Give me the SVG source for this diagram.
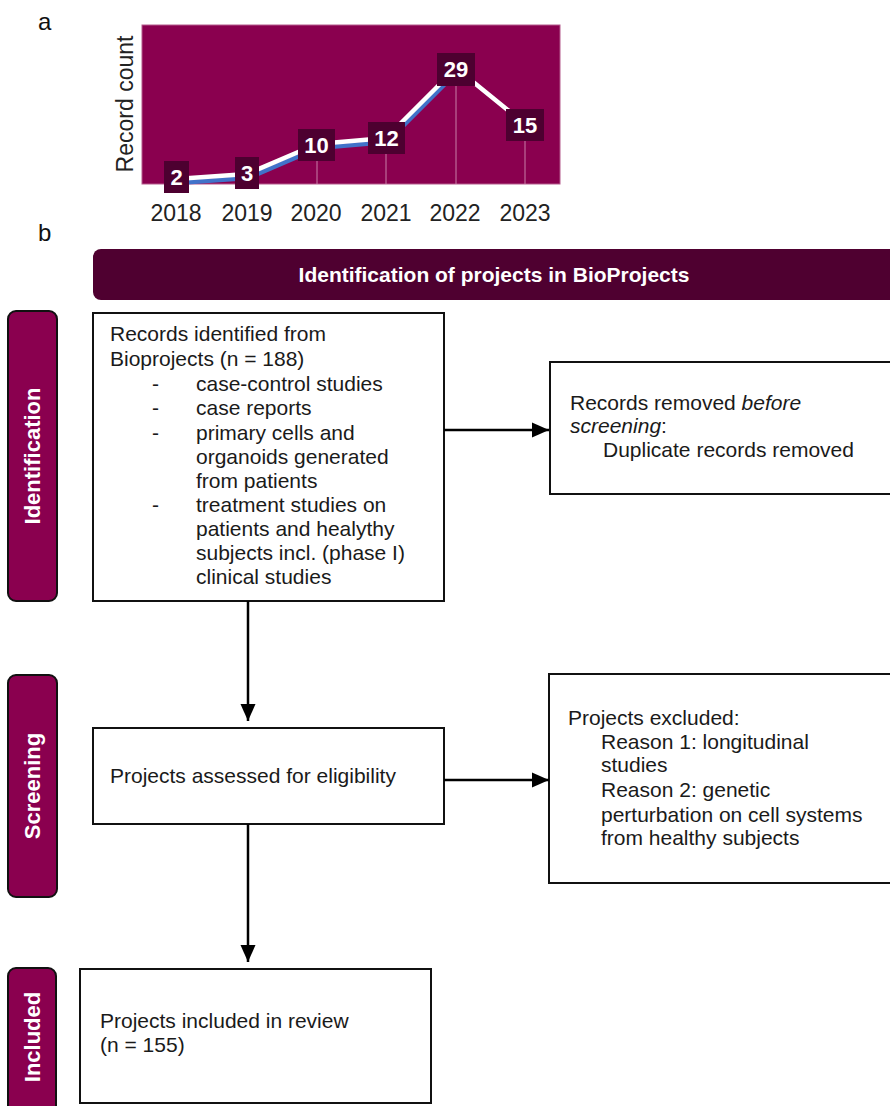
<svg xmlns="http://www.w3.org/2000/svg" width="890" height="1106" viewBox="0 0 890 1106">
<style>
text{font-family:"Liberation Sans",Arial,sans-serif;}
.body{font-size:21px;fill:#1a1a1a;}
.box{fill:#fff;stroke:#111;stroke-width:2;}
.side{fill:#8a004f;stroke:#111;stroke-width:2;}
.sidet{font-size:22px;font-weight:bold;fill:#fff;text-anchor:middle;}
.lab{fill:#4d0030;}
.labt{font-size:22px;font-weight:bold;fill:#fff;text-anchor:middle;}
.yr{font-size:23px;fill:#222;text-anchor:middle;}
.tick{stroke:#c77fa8;stroke-width:1;}
.conn{stroke:#000;stroke-width:2.5;fill:none;marker-end:url(#ah);}
</style>
<defs>
<marker id="ah" markerUnits="userSpaceOnUse" markerWidth="17" markerHeight="17" viewBox="0 0 17 17" refX="17" refY="8.5" orient="auto">
<path d="M0,1 L17,8.5 L0,16 Z" fill="#000"/>
</marker>
</defs>
<rect width="890" height="1106" fill="#fff"/>

<g id="panel-a">
<text x="38" y="30" font-size="24" fill="#111">a</text>
<rect x="142" y="25" width="418" height="159" fill="#8a004f" stroke="#b45a8c" stroke-width="1"/>
<text transform="translate(133,104) rotate(-90)" font-size="23" fill="#222" text-anchor="middle">Record count</text>
<line class="tick" x1="317" y1="161" x2="317" y2="184"/>
<line class="tick" x1="386" y1="154" x2="386" y2="184"/>
<line class="tick" x1="456" y1="86" x2="456" y2="184"/>
<line class="tick" x1="525" y1="141" x2="525" y2="184"/>
<polyline points="177,183 248,178 318,148 387,142 457,72" fill="none" stroke="#4172c9" stroke-width="4.5" stroke-linejoin="round"/>
<polyline points="176,179 247,174 317,144 386,138 456,68 525,124" fill="none" stroke="#fff" stroke-width="4.5" stroke-linejoin="round"/>
<rect class="lab" x="164" y="161" width="25" height="32"/><text class="labt" x="176.5" y="185">2</text>
<rect class="lab" x="235" y="157" width="24" height="32"/><text class="labt" x="247" y="181">3</text>
<rect class="lab" x="298" y="129" width="37" height="32"/><text class="labt" x="316.5" y="153">10</text>
<rect class="lab" x="368" y="122" width="37" height="32"/><text class="labt" x="386.5" y="146">12</text>
<rect class="lab" x="437" y="53" width="38" height="33"/><text class="labt" x="456" y="77">29</text>
<rect class="lab" x="506" y="109" width="38" height="32"/><text class="labt" x="525" y="133">15</text>
<text class="yr" x="176" y="221">2018</text>
<text class="yr" x="247" y="221">2019</text>
<text class="yr" x="316" y="221">2020</text>
<text class="yr" x="386" y="221">2021</text>
<text class="yr" x="455" y="221">2022</text>
<text class="yr" x="525" y="221">2023</text>
</g>

<text x="38" y="241" font-size="24" fill="#111">b</text>

<g id="header">
<rect x="93" y="249" width="830" height="51" rx="8" fill="#4f0030"/>
<text x="494" y="282" font-size="21" font-weight="bold" fill="#fff" text-anchor="middle">Identification of projects in BioProjects</text>
</g>

<g id="side-identification">
<rect class="side" x="8" y="311" width="49" height="290" rx="8"/>
<text class="sidet" transform="translate(40,456) rotate(-90)">Identification</text>
</g>
<g id="side-screening">
<rect class="side" x="8" y="675" width="49" height="222" rx="8"/>
<text class="sidet" transform="translate(40,786) rotate(-90)">Screening</text>
</g>
<g id="side-included">
<rect class="side" x="8" y="968" width="48" height="170" rx="8"/>
<text class="sidet" transform="translate(40,1037) rotate(-90)">Included</text>
</g>

<g id="records-identified">
<rect class="box" x="93" y="313" width="351" height="288"/>
<text class="body" x="110" y="341">Records identified from</text>
<text class="body" x="110" y="366">Bioprojects (n = 188)</text>
<text class="body" x="152" y="391">-</text><text class="body" x="196" y="391">case-control studies</text>
<text class="body" x="152" y="415">-</text><text class="body" x="196" y="415">case reports</text>
<text class="body" x="152" y="440">-</text><text class="body" x="196" y="440">primary cells and</text>
<text class="body" x="196" y="464">organoids generated</text>
<text class="body" x="196" y="488">from patients</text>
<text class="body" x="152" y="512">-</text><text class="body" x="196" y="512">treatment studies on</text>
<text class="body" x="196" y="536">patients and healythy</text>
<text class="body" x="196" y="560">subjects incl. (phase I)</text>
<text class="body" x="196" y="584">clinical studies</text>
</g>

<g id="records-removed">
<rect class="box" x="550" y="362" width="360" height="132"/>
<text class="body" x="570" y="410">Records removed <tspan font-style="italic">before</tspan></text>
<text class="body" x="570" y="433"><tspan font-style="italic">screening</tspan>:</text>
<text class="body" x="603" y="457">Duplicate records removed</text>
</g>

<g id="assessed">
<rect class="box" x="93" y="728" width="351" height="96"/>
<text class="body" x="110" y="783">Projects assessed for eligibility</text>
</g>

<g id="excluded">
<rect class="box" x="549" y="674" width="360" height="209"/>
<text class="body" x="568" y="725">Projects excluded:</text>
<text class="body" x="601" y="749">Reason 1: longitudinal</text>
<text class="body" x="601" y="772">studies</text>
<text class="body" x="601" y="797">Reason 2: genetic</text>
<text class="body" x="601" y="822">perturbation on cell systems</text>
<text class="body" x="601" y="845">from healthy subjects</text>
</g>

<g id="included">
<rect class="box" x="80" y="969" width="351" height="134"/>
<text class="body" x="100" y="1028">Projects included in review</text>
<text class="body" x="100" y="1052">(n = 155)</text>
</g>

<g id="connectors">
<line class="conn" x1="444" y1="430" x2="549" y2="430"/>
<line class="conn" x1="248" y1="601" x2="248" y2="721"/>
<line class="conn" x1="444" y1="780" x2="549" y2="780"/>
<line class="conn" x1="248" y1="824" x2="248" y2="962"/>
</g>
</svg>
